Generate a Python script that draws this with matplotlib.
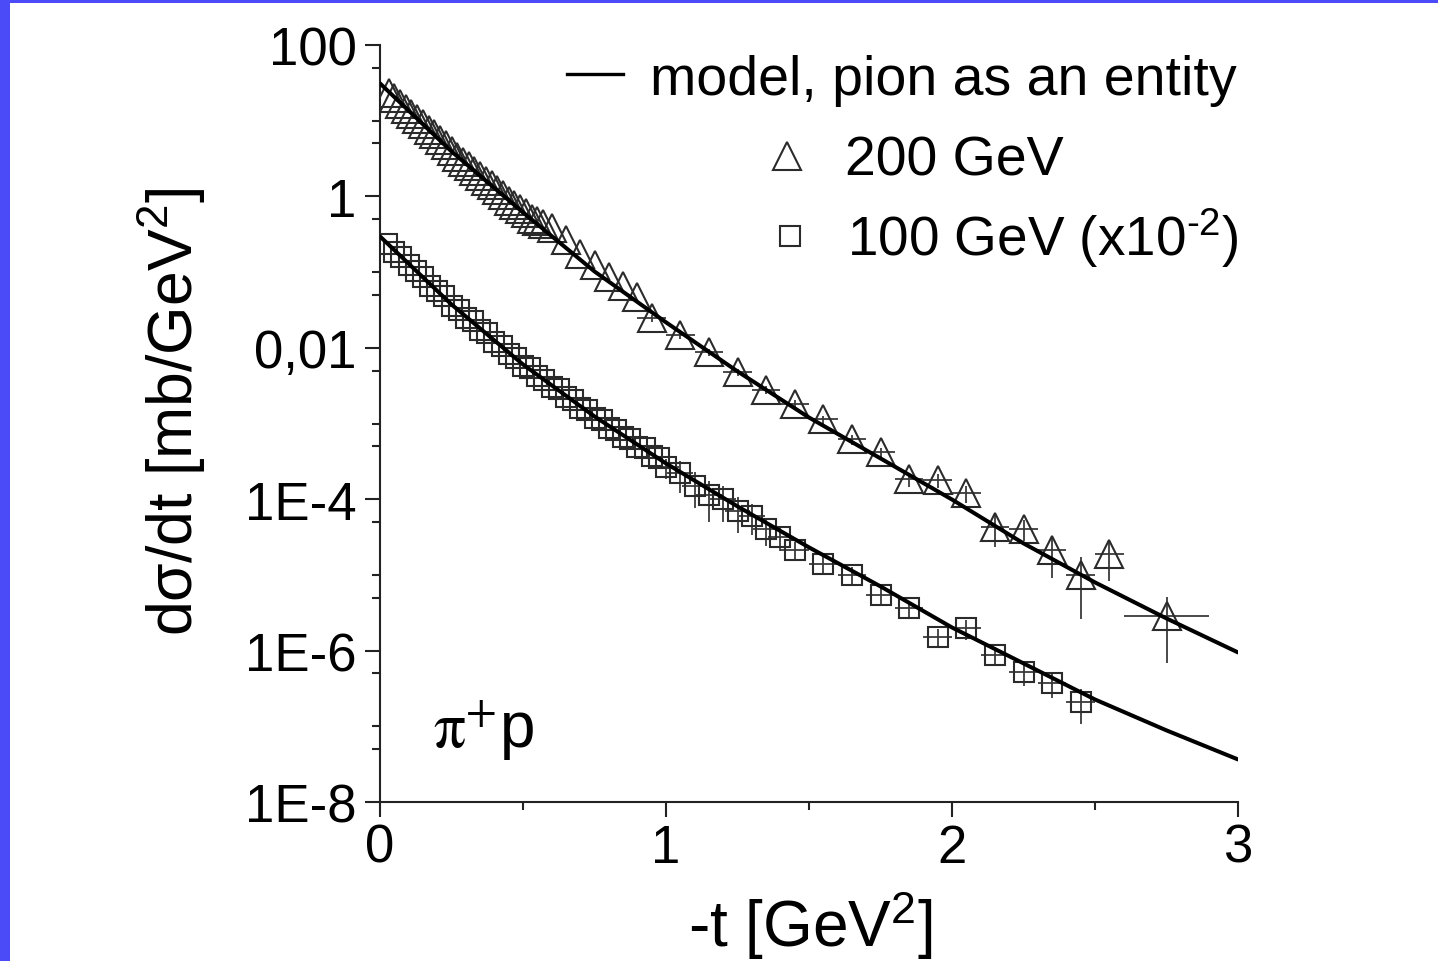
import matplotlib
matplotlib.use('Agg')
import numpy as np
import matplotlib.pyplot as plt
from matplotlib.lines import Line2D
from matplotlib.patches import Rectangle
from matplotlib.ticker import FixedLocator, FixedFormatter, NullFormatter

plt.rcParams['font.family'] = ['Liberation Sans', 'DejaVu Sans']
plt.rcParams['mathtext.fontset'] = 'custom'
plt.rcParams['mathtext.rm'] = 'Liberation Sans'
plt.rcParams['mathtext.it'] = 'Liberation Sans:italic'
plt.rcParams['mathtext.bf'] = 'Liberation Sans:bold'

# ---------------- data ----------------
# model curves ("pion as an entity")
t_model = [0.0, 0.25, 0.5, 0.75, 1.0, 1.25, 1.5, 1.75, 2.0, 2.25, 2.5, 2.75, 3.0]
model_200 = [31.1, 3.93, 0.615, 0.102, 0.0217, 4.88e-3, 1.20e-3, 3.46e-4,
             9.9e-5, 2.61e-5, 7.96e-6, 2.66e-6, 9.46e-7]
model_100 = [0.296, 0.0374, 6.03e-3, 1.24e-3, 2.97e-4, 8.04e-5, 2.31e-5,
             7.05e-6, 2.02e-6, 6.78e-7, 2.26e-7, 8.83e-8, 3.65e-8]

# 200 GeV data (triangles)
t_200_dense = [0.03, 0.05, 0.07, 0.09, 0.11, 0.13, 0.15, 0.17, 0.19, 0.21,
               0.23, 0.25, 0.27, 0.29, 0.31, 0.33, 0.35, 0.37, 0.39, 0.41,
               0.43, 0.45, 0.47, 0.49, 0.51, 0.53, 0.55, 0.57, 0.60, 0.65,
               0.70, 0.75, 0.80, 0.85, 0.90]
s_200_dense = [22.9, 19.95, 16.6, 14.45, 12.3, 10.5, 9.12, 7.59, 6.61, 5.50,
               4.79, 3.98, 3.31, 2.88, 2.51, 2.14, 1.86, 1.58, 1.41, 1.20,
               1.05, 0.871, 0.776, 0.676, 0.603, 0.501, 0.468, 0.437, 0.380, 0.263,
               0.174, 0.126, 0.0871, 0.0646, 0.0468]
t_200_sparse = [0.95, 1.05, 1.15, 1.25, 1.35, 1.45, 1.55, 1.65, 1.75, 1.85,
                1.95, 2.05, 2.15, 2.25, 2.35, 2.45, 2.55, 2.75]
s_200_sparse = [0.0247, 0.0147, 8.69e-3, 4.73e-3, 2.76e-3, 1.80e-3, 1.13e-3,
                6.17e-4, 4.15e-4, 1.83e-4, 1.77e-4, 1.19e-4, 4.24e-5, 4.03e-5,
                2.11e-5, 9.93e-6, 1.88e-5, 2.89e-6]
relerr_200_sparse = [0.10, 0.10, 0.10, 0.10, 0.12, 0.12, 0.12, 0.15, 0.15, 0.20,
                     0.20, 0.25, 0.45, 0.30, 0.57, 0.74, 0.56, 0.76]
terr_200_sparse = [0.05] * 17 + [0.15]

# 100 GeV data (x 1e-2, squares)
t_100_dense = [0.025, 0.05, 0.075, 0.10, 0.125, 0.15, 0.175, 0.20, 0.225, 0.25,
               0.275, 0.30, 0.325, 0.35, 0.375, 0.40, 0.425, 0.45, 0.475, 0.50,
               0.525, 0.55, 0.575, 0.60, 0.625, 0.65, 0.675, 0.70, 0.725, 0.75,
               0.775, 0.80, 0.825, 0.85, 0.875, 0.90, 0.925, 0.95, 0.975]
s_100_dense = [0.234, 0.182, 0.158, 0.126, 0.102, 0.0871, 0.0661, 0.0562, 0.0479, 0.0355,
               0.0316, 0.0251, 0.0224, 0.0170, 0.0155, 0.0120, 0.0107, 8.32e-3, 7.41e-3, 5.75e-3,
               5.37e-3, 4.27e-3, 3.80e-3, 3.02e-3, 2.82e-3, 2.24e-3, 2.04e-3, 1.62e-3, 1.51e-3, 1.18e-3,
               1.12e-3, 8.71e-4, 8.32e-4, 6.61e-4, 6.31e-4, 4.90e-4, 4.68e-4, 3.72e-4, 3.47e-4]
t_100_mid = [1.00, 1.05, 1.10, 1.15, 1.20, 1.25, 1.30, 1.35, 1.40]
s_100_mid = [2.63e-4, 2.19e-4, 1.51e-4, 1.12e-4, 1.00e-4, 7.08e-5, 6.03e-5, 3.98e-5, 3.16e-5]
relerr_100_mid = [0.30, 0.45, 0.50, 0.55, 0.50, 0.50, 0.45, 0.40, 0.35]
t_100_sparse = [1.45, 1.55, 1.65, 1.75, 1.85, 1.95, 2.05, 2.15, 2.25, 2.35, 2.45]
s_100_sparse = [2.11e-5, 1.39e-5, 1.01e-5, 5.47e-6, 3.64e-6, 1.52e-6, 1.96e-6,
                8.72e-7, 5.15e-7, 3.69e-7, 2.11e-7]
relerr_100_sparse = [0.27, 0.27, 0.27, 0.27, 0.25, 0.28, 0.30, 0.27, 0.33, 0.35, 0.49]

y_major = [1e-8, 1e-6, 1e-4, 1e-2, 1, 100]
y_major_labels = ['1E-8', '1E-6', '1E-4', '0,01', '1', '100']
x_major = [0, 1, 2, 3]
x_major_labels = ['0', '1', '2', '3']

# ---------------- figure ----------------
W, H = 1438, 962
fig = plt.figure(figsize=(W / 100, H / 100), dpi=100, facecolor='#4b4bf7')
fig.patches.append(Rectangle((10 / W, 0), 1, 1 - 4 / H, transform=fig.transFigure,
                             facecolor='white', edgecolor='none', zorder=-10))

ax = fig.add_axes([380 / W, 1 - 803 / H, (1238 - 380) / W, (803 - 46) / H])
ax.set_yscale('log')
ax.set_xlim(0, 3)
ax.set_ylim(1e-8, 100)
for s in ['top', 'right']:
    ax.spines[s].set_visible(False)
for s in ['left', 'bottom']:
    ax.spines[s].set_linewidth(1.5)
    ax.spines[s].set_color('#222222')

ax.yaxis.set_major_locator(FixedLocator(y_major))
ax.yaxis.set_major_formatter(FixedFormatter(y_major_labels))
y_minor = []
for e in [-8, -6, -4, -2, 0]:
    y_minor += [5 * 10.0 ** e, 10.0 ** (e + 1), 5 * 10.0 ** (e + 1)]
ax.yaxis.set_minor_locator(FixedLocator(y_minor))
ax.yaxis.set_minor_formatter(NullFormatter())
ax.xaxis.set_major_locator(FixedLocator(x_major))
ax.xaxis.set_major_formatter(FixedFormatter(x_major_labels))
ax.xaxis.set_minor_locator(FixedLocator([0.5, 1.5, 2.5]))

ax.tick_params(which='major', length=11, width=1.5, direction='out', labelsize=38,
               color='#222222')
ax.tick_params(axis='y', which='major', pad=6)
ax.tick_params(axis='x', which='major', pad=4)
ax.tick_params(which='minor', length=6, width=1.5, direction='out', color='#222222')

ecol = '#3a3a3a'
mcol = '#2b2b2b'
# error bars
ax.errorbar(t_200_sparse, s_200_sparse,
            yerr=np.array(relerr_200_sparse) * np.array(s_200_sparse),
            xerr=terr_200_sparse, fmt='none', ecolor=ecol, elinewidth=1.3,
            capsize=0, zorder=2)
ax.errorbar(t_100_mid, s_100_mid,
            yerr=np.array(relerr_100_mid) * np.array(s_100_mid),
            xerr=0.045, fmt='none', ecolor=ecol, elinewidth=1.3, capsize=0, zorder=2)
ax.errorbar(t_100_sparse, s_100_sparse,
            yerr=np.array(relerr_100_sparse) * np.array(s_100_sparse),
            xerr=0.05, fmt='none', ecolor=ecol, elinewidth=1.3, capsize=0, zorder=2)

# markers
mk = dict(ls='none', mfc='none', mec=mcol, mew=1.5, zorder=3)
ax.plot(t_200_dense + t_200_sparse, s_200_dense + s_200_sparse, marker='^', ms=19.5, **mk)
ax.plot(t_100_dense + t_100_mid + t_100_sparse, s_100_dense + s_100_mid + s_100_sparse,
        marker='s', ms=14.5, **mk)

# model curves
ax.plot(t_model, model_200, color='black', lw=2.9, zorder=4, solid_capstyle='round')
ax.plot(t_model, model_100, color='black', lw=2.9, zorder=4, solid_capstyle='round')

# ---------------- legend (manual) ----------------
fig.add_artist(Line2D([567 / W, 623 / W], [1 - 75 / H] * 2, transform=fig.transFigure,
                      color='black', lw=2.4))
fig.text(650 / W, 1 - 95 / H, 'model, pion as an entity', fontsize=40, va='baseline', ha='left')
fig.add_artist(Line2D([787 / W], [1 - 157 / H], transform=fig.transFigure, ls='none',
                      marker='^', ms=20, mfc='none', mec=mcol, mew=1.5))
fig.text(845 / W, 1 - 176 / H, '200 GeV', fontsize=40, va='baseline', ha='left')
fig.add_artist(Line2D([790 / W], [1 - 237 / H], transform=fig.transFigure, ls='none',
                      marker='s', ms=15, mfc='none', mec=mcol, mew=1.5))
fig.text(847 / W, 1 - 256 / H, r'100 GeV (x10$^{\text{-2}}$)', fontsize=39.5, va='baseline', ha='left')

# annotation
fig.text(433 / W, 1 - 748 / H, r'$\mathrm{\pi}^{+}$p', fontsize=46, va='baseline', ha='left',
         math_fontfamily='stix')

# axis labels
fig.text(172 / W, 1 - 412 / H, 'd\u03c3/dt [mb/GeV$^2$]', rotation=90, fontsize=45,
         ha='center', va='center')
fig.text(810 / W, 1 - 947 / H, '-t [GeV$^2$]', fontsize=46, ha='center', va='baseline')

fig.savefig('out.png', dpi=100, facecolor=fig.get_facecolor())
